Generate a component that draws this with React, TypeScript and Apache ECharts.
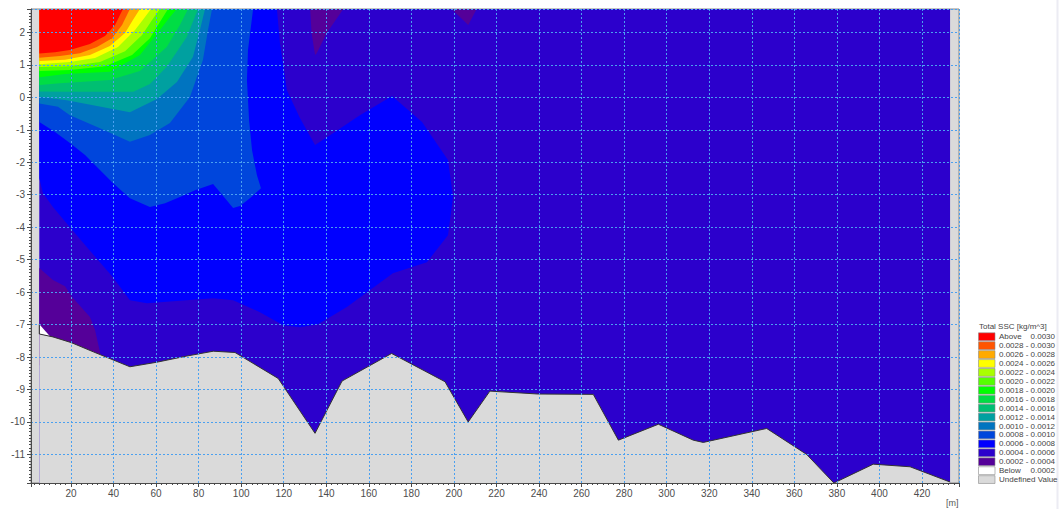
import React, { useEffect, useRef } from 'react';
import * as echarts from 'echarts';

// Axis extents: distance along section [m] and elevation [m]
const xRange = [1.2, 437.4];
const yRange = [-11.88, 2.72];

// Wetted part of the cross-section
const sectionWater = [[5.1, 2.72], [433.2, 2.72], [433.2, -11.88], [5.1, -11.88]];

// Bed profile (distance, elevation)
const bedProfile = [
  [5.1, -7.29], [11.5, -7.38], [20.3, -7.56], [30.5, -7.84], [47.7, -8.3], [60.3, -8.16],
  [74.4, -7.97], [86.9, -7.82], [97.1, -7.86], [117.4, -8.66], [134.7, -10.35], [147.4, -8.74],
  [170.7, -7.89], [195.8, -8.76], [206.7, -10.0], [216.9, -9.05], [239.7, -9.14], [265.5, -9.15],
  [277.3, -10.56], [296.1, -10.07], [312.5, -10.56], [317.2, -10.63], [347.0, -10.2], [365.8, -11.0],
  [378.6, -11.88], [397.1, -11.3], [414.4, -11.38], [433.2, -11.85],
];

// Concentration contours: each polygon encloses the area above a level [kg/m^3]
const sscAbove0030 = [[5.1, 2.72], [5.1, 1.35], [12.5, 1.39], [19.5, 1.46], [28.9, 1.64], [36.0, 1.89], [40.7, 2.23], [44.4, 2.72]];
const sscAbove0028 = [[5.1, 2.72], [5.1, 1.22], [14.8, 1.27], [24.2, 1.36], [32.2, 1.55], [39.3, 1.82], [44.0, 2.23], [47.7, 2.72]];
const sscAbove0026 = [[5.1, 2.72], [5.1, 1.12], [17.2, 1.16], [28.9, 1.3], [38.3, 1.58], [45.4, 1.98], [49.1, 2.38], [52.4, 2.72]];
const sscAbove0024 = [[5.1, 2.72], [5.1, 1.02], [19.5, 1.09], [31.3, 1.21], [42.1, 1.55], [50.1, 2.07], [54.8, 2.47], [57.6, 2.72]];
const sscAbove0022 = [[5.1, 2.72], [5.1, 0.93], [19.5, 0.96], [33.6, 1.09], [45.4, 1.42], [53.4, 1.92], [58.1, 2.38], [61.8, 2.72]];
const sscAbove0020 = [[5.1, 2.72], [5.1, 0.81], [19.5, 0.84], [36.0, 0.96], [48.7, 1.3], [57.1, 1.82], [61.8, 2.32], [65.6, 2.72]];
const sscAbove0018 = [[5.1, 2.72], [5.1, 0.62], [17.2, 0.72], [38.3, 0.79], [52.4, 1.3], [61.8, 2.07], [66.5, 2.47], [69.8, 2.72]];
const sscAbove0016 = [[5.1, 2.72], [5.1, 0.38], [14.8, 0.43], [38.3, 0.53], [52.4, 0.81], [65.0, 1.55], [71.2, 2.23], [75.0, 2.72]];
const sscAbove0014 = [[5.1, 2.72], [5.1, 0.18], [18.0, 0.17], [49.3, 0.17], [57.1, 0.41], [65.0, 0.94], [74.4, 1.86], [79.7, 2.72]];
const sscAbove0012 = [[5.1, 2.72], [5.1, 0.02], [18.0, -0.09], [47.7, -0.46], [60.4, -0.05], [69.8, 0.47], [77.3, 1.24], [80.6, 2.07], [83.0, 2.72]];
const sscAbove0010 = [
  [5.1, 2.72], [5.1, -0.19], [13.9, -0.29], [19.5, -0.55], [33.6, -0.95], [47.7, -1.37], [57.1, -1.16],
  [66.5, -0.79], [75.9, 0.01], [82.0, 1.15], [84.4, 2.07], [86.3, 2.72],
];
const sscAbove0008 = [
  [5.1, 2.72], [5.1, -0.76], [12.5, -1.07], [19.5, -1.41], [26.6, -1.78], [32.2, -2.15], [39.7, -2.64],
  [47.7, -3.11], [57.1, -3.38], [64.2, -3.26], [71.2, -3.07], [78.3, -2.86], [86.8, -2.67], [92.4, -3.11],
  [96.2, -3.41], [99.4, -3.35], [104.1, -3.11], [109.3, -2.8], [107.4, -2.4], [105.1, -1.63], [103.7, -0.7],
  [102.7, 0.53], [103.2, 1.46], [105.6, 2.72],
];
const sscAbove0006 = [
  [5.1, 2.72], [5.1, -2.49], [6.8, -2.95], [11.5, -3.38], [19.5, -4.0], [27.5, -4.62], [39.7, -5.54],
  [47.7, -6.25], [55.7, -6.34], [86.8, -6.19], [96.2, -6.25], [108.8, -6.62], [119.7, -7.02], [127.6, -7.08],
  [136.1, -6.99], [149.7, -6.46], [171.3, -5.42], [187.3, -5.08], [197.2, -4.25], [199.6, -3.07],
  [197.2, -1.93], [185.0, -0.76], [170.9, 0.04], [155.8, -0.55], [140.3, -1.23], [134.7, -1.47],
  [127.6, -0.64], [121.5, 0.22], [118.2, 1.67], [116.8, 2.72],
];
// Patches below 0.0004
const sscBelow0004 = [
  [[5.1, -5.26], [11.5, -5.63], [17.2, -5.82], [20.5, -6.15], [28.9, -6.77], [31.3, -7.17], [35.0, -8.25], [5.1, -8.25]],
  [[132.4, 2.72], [133.1, 1.98], [134.7, 1.3], [135.5, 1.36], [140.2, 1.98], [148.0, 2.72]],
  [[198.9, 2.72], [206.7, 2.23], [210.7, 2.72]],
];
// Patch below 0.0002 and its boundary on the section edge
const sscBelow0002 = [[5.1, -6.99], [10.1, -7.36], [5.1, -7.29]];
const sscBelow0002Edge = [[5.1, -6.99], [5.1, -7.29]];

// Legend
const legendTitle = 'Total SSC [kg/m^3]';
const legendRanges = [
  'Above', '0.0028 - 0.0030', '0.0026 - 0.0028', '0.0024 - 0.0026', '0.0022 - 0.0024',
  '0.0020 - 0.0022', '0.0018 - 0.0020', '0.0016 - 0.0018', '0.0014 - 0.0016', '0.0012 - 0.0014',
  '0.0010 - 0.0012', '0.0008 - 0.0010', '0.0006 - 0.0008', '0.0004 - 0.0006', '0.0002 - 0.0004',
  'Below', 'Undefined Value',
];
const legendLimits = ['0.0030', '', '', '', '', '', '', '', '', '', '', '', '', '', '', '0.0002', ''];
const legendColors = [
  '#ff0000', '#ff5500', '#ffaa00', '#ffff00', '#aaff00', '#55ff00', '#00ff00', '#00dd44',
  '#00bf72', '#00a0a0', '#0074c0', '#0046dc', '#0000ff', '#2c00cc', '#550099', '#ffffff', '#dadada',
];

const FONT = 'Liberation Sans, Arial, Helvetica, sans-serif';

export default function App() {
  const ref = useRef<HTMLDivElement>(null);

  useEffect(() => {
    if (!ref.current) return;
    const chart = echarts.init(ref.current, null, { renderer: 'svg' });

    const layers: { points: number[][]; color: string }[] = [
      { points: sectionWater, color: legendColors[13] },
      ...sscBelow0004.map((p) => ({ points: p, color: legendColors[14] })),
      { points: sscAbove0006, color: legendColors[12] },
      { points: sscAbove0008, color: legendColors[11] },
      { points: sscAbove0010, color: legendColors[10] },
      { points: sscAbove0012, color: legendColors[9] },
      { points: sscAbove0014, color: legendColors[8] },
      { points: sscAbove0016, color: legendColors[7] },
      { points: sscAbove0018, color: legendColors[6] },
      { points: sscAbove0020, color: legendColors[5] },
      { points: sscAbove0022, color: legendColors[4] },
      { points: sscAbove0024, color: legendColors[3] },
      { points: sscAbove0026, color: legendColors[2] },
      { points: sscAbove0028, color: legendColors[1] },
      { points: sscAbove0030, color: legendColors[0] },
      { points: sscBelow0002, color: legendColors[15] },
    ];

    const legendTop = 336.7;
    const legendPitch = 8.93;
    const legendGraphics: any[] = [
      {
        type: 'text', x: 979, y: 326.7,
        style: { text: legendTitle, fontSize: 8, fontFamily: FONT, fill: '#444', verticalAlign: 'middle' },
      },
    ];
    legendRanges.forEach((label, i) => {
      const cy = legendTop + i * legendPitch;
      legendGraphics.push({
        type: 'rect',
        shape: { x: 978.5, y: cy - 3.9, width: 16.5, height: 7.8 },
        style: { fill: legendColors[i], stroke: '#8a8a8a', lineWidth: 0.6 },
      });
      legendGraphics.push({
        type: 'text', x: 999, y: cy,
        style: { text: label, fontSize: 8, fontFamily: FONT, fill: '#444', verticalAlign: 'middle' },
      });
      if (legendLimits[i]) {
        legendGraphics.push({
          type: 'text', x: 1055, y: cy,
          style: { text: legendLimits[i], fontSize: 8, fontFamily: FONT, fill: '#444', align: 'right', verticalAlign: 'middle' },
        });
      }
    });

    const axisColor = '#4a4a4a';
    const gridLine = { color: '#4aa0f0', type: [2, 2] as any, width: 1 };

    chart.setOption({
      animation: false,
      grid: {
        left: 31, top: 9, width: 928, height: 474,
        show: true, backgroundColor: '#dadada', borderColor: '#8a8a8a', borderWidth: 1,
      },
      xAxis: {
        type: 'value', min: xRange[0], max: xRange[1], splitNumber: 22, minInterval: 20, maxInterval: 20,
        z: 4,
        axisLine: { show: true, onZero: false, lineStyle: { color: axisColor } },
        axisTick: { show: true, length: 4, lineStyle: { color: axisColor } },
        minorTick: { show: true, splitNumber: 8, length: 2, lineStyle: { color: axisColor } },
        axisLabel: {
          color: '#4d4d4d', fontSize: 10, fontFamily: FONT, margin: 5,
          formatter: (v: number) => (Math.abs(v / 20 - Math.round(v / 20)) < 1e-6 && v > 0 ? String(Math.round(v)) : ''),
        },
        splitLine: { show: true, lineStyle: gridLine },
      },
      yAxis: {
        type: 'value', min: yRange[0], max: yRange[1], splitNumber: 14, minInterval: 1, maxInterval: 1,
        z: 4,
        axisLine: { show: true, onZero: false, lineStyle: { color: axisColor } },
        axisTick: { show: true, length: 4, lineStyle: { color: axisColor } },
        minorTick: { show: true, splitNumber: 10, length: 2, lineStyle: { color: axisColor } },
        axisLabel: {
          color: '#4d4d4d', fontSize: 10, fontFamily: FONT, margin: 6,
          formatter: (v: number) => (Math.abs(v - Math.round(v)) < 1e-6 ? String(Math.round(v)) : ''),
        },
        splitLine: { show: true, lineStyle: gridLine },
      },
      series: [
        {
          type: 'custom',
          z: 2,
          clip: true,
          silent: true,
          data: layers.map((l) => l.points[0]),
          renderItem: (params: any, api: any) => {
            const layer = layers[params.dataIndex];
            return {
              type: 'polygon',
              shape: { points: layer.points.map((p) => api.coord(p)) },
              style: { fill: layer.color, stroke: null },
            };
          },
        },
        {
          type: 'line',
          z: 3,
          silent: true,
          data: bedProfile,
          symbol: 'none',
          lineStyle: { color: '#333', width: 1 },
          areaStyle: { color: '#dadada', opacity: 1, origin: 'start' },
        },
        {
          type: 'line',
          z: 3,
          silent: true,
          data: sscBelow0002Edge,
          symbol: 'none',
          lineStyle: { color: '#222', width: 1 },
        },
      ],
      graphic: [
        { type: 'text', x: 946, y: 503, style: { text: '[m]', fontSize: 9, fontFamily: FONT, fill: '#555', verticalAlign: 'middle' } },
        { type: 'rect', shape: { x: 1056.5, y: 0, width: 2, height: 509 }, style: { fill: '#ececf3' } },
        ...legendGraphics,
      ],
    });

    return () => chart.dispose();
  }, []);

  return <div ref={ref} style={{ position: 'absolute', left: 0, top: 0, width: 1061, height: 509 }} />;
}
